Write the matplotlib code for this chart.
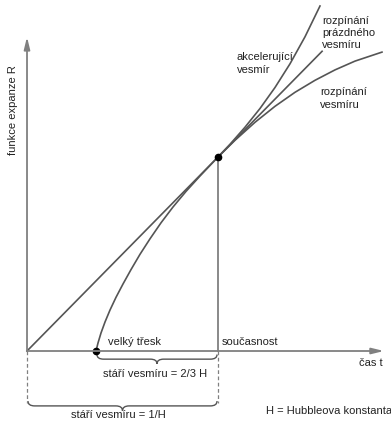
import numpy as np
import matplotlib.pyplot as plt
from matplotlib.path import Path
from matplotlib.patches import PathPatch

plt.rcParams['font.family'] = ['Liberation Sans', 'DejaVu Sans']
plt.rcParams['font.size'] = 8

# cas t v jednotkach 1/H, R v jednotkach dnesni hodnoty (soucasnost = (1, 1))
t_prazdny = [0.0, 1.545]
R_prazdny = [0.0, 1.545]

# decelerujici vesmir (od velkeho tresku)
t_rozpinani = [0.3613, 0.3717, 0.3874, 0.4084, 0.4346, 0.4660, 0.5026, 0.5445, 0.5916,
               0.6440, 0.7016, 0.7644, 0.8325, 0.9058, 1.0,
               1.0890, 1.1937, 1.2984, 1.4031, 1.5079, 1.6126, 1.7173, 1.8586]
R_rozpinani = [0.0, 0.0412, 0.0928, 0.1495, 0.2113, 0.2768, 0.3454, 0.4196, 0.4985,
               0.5784, 0.6608, 0.7423, 0.8227, 0.9021, 1.0,
               1.0861, 1.1789, 1.2613, 1.3335, 1.3954, 1.4490, 1.4943, 1.5407]

# akcelerujici vesmir (od soucasnosti)
t_akcel = [1.0, 1.0628, 1.1414, 1.2199, 1.2984, 1.3770, 1.4555, 1.5340]
R_akcel = [1.0, 1.0655, 1.1536, 1.2500, 1.3582, 1.4804, 1.6196, 1.7784]

t_tresk, R_tresk = 0.3613, 0.0
t_ted, R_ted = 1.0, 1.0

barva = '#555555'
barva_osy = '#808080'
barva_textu = '#222222'


def zavorka(ax, x0, x1, y, h, r=0.035):
    # slozena zavorka smerem dolu
    xm = (x0 + x1) / 2
    yc = y - h / 2
    verts = [(x0, y), (x0, yc), (x0 + r, yc), (xm - r, yc), (xm, yc), (xm, y - h),
             (xm, yc), (xm + r, yc), (x1 - r, yc), (x1, yc), (x1, y)]
    codes = [Path.MOVETO, Path.CURVE3, Path.CURVE3, Path.LINETO, Path.CURVE3, Path.CURVE3,
             Path.CURVE3, Path.CURVE3, Path.LINETO, Path.CURVE3, Path.CURVE3]
    ax.add_patch(PathPatch(Path(verts, codes), fill=False, ec=barva, lw=1.0))


fig = plt.figure(figsize=(3.91, 4.21), dpi=100)
ax = fig.add_axes([0, 0, 1, 1])
ax.set_xlim(-0.1414, 1.9058)
ax.set_ylim(-0.3608, 1.8093)
ax.axis('off')

# osy se sipkami
sipka = dict(arrowstyle='-|>,head_length=0.9,head_width=0.22', color=barva_osy, lw=1.3,
             shrinkA=0, shrinkB=0)
ax.annotate('', xy=(0, 1.619), xytext=(0, 0), arrowprops=sipka)
ax.annotate('', xy=(1.869, 0), xytext=(0, 0), arrowprops=sipka)

ax.plot(t_prazdny, R_prazdny, color=barva, lw=1.2)
ax.plot(t_rozpinani, R_rozpinani, color=barva, lw=1.2)
ax.plot(t_akcel, R_akcel, color=barva, lw=1.2)
ax.plot([t_ted, t_ted], [0, R_ted], color=barva_osy, lw=1.3)

ax.plot([t_tresk, t_ted], [R_tresk, R_ted], 'o', color='black', ms=4.5, ls='none')

# carkovane svislice k zavorkam
for tx in [0.0, 1.0]:
    ax.plot([tx, tx], [0, -0.27], color=barva_osy, lw=0.9, ls=(0, (3, 2)))

zavorka(ax, t_tresk + 0.005, 0.995, -0.018, 0.048)
zavorka(ax, 0.005, 0.995, -0.258, 0.05)

ax.text(-0.073, 1.242, 'funkce expanze R', rotation=90, ha='center', va='center',
        color=barva_textu)
ax.text(1.099, 1.482, 'akcelerující\nvesmír', ha='left', va='center', linespacing=1.45,
        color=barva_textu)
ax.text(1.545, 1.639, 'rozpínání\nprázdného\nvesmíru', ha='left', va='center',
        linespacing=1.3, color=barva_textu)
ax.text(1.534, 1.302, 'rozpínání\nvesmíru', ha='left', va='center', linespacing=1.45,
        color=barva_textu)
ax.text(0.424, 0.046, 'velký třesk', ha='left', va='center', color=barva_textu)
ax.text(1.021, 0.046, 'současnost', ha='left', va='center', color=barva_textu)
ax.text(1.86, -0.062, 'čas t', ha='right', va='center', color=barva_textu)
ax.text(0.67, -0.118, 'stáří vesmíru = 2/3 H', ha='center', va='center', color=barva_textu)
ax.text(0.48, -0.330, 'stáří vesmíru = 1/H', ha='center', va='center', color=barva_textu)
ax.text(1.25, -0.309, 'H = Hubbleova konstanta', ha='left', va='center', color=barva_textu)

fig.savefig('out.png', dpi=100)
